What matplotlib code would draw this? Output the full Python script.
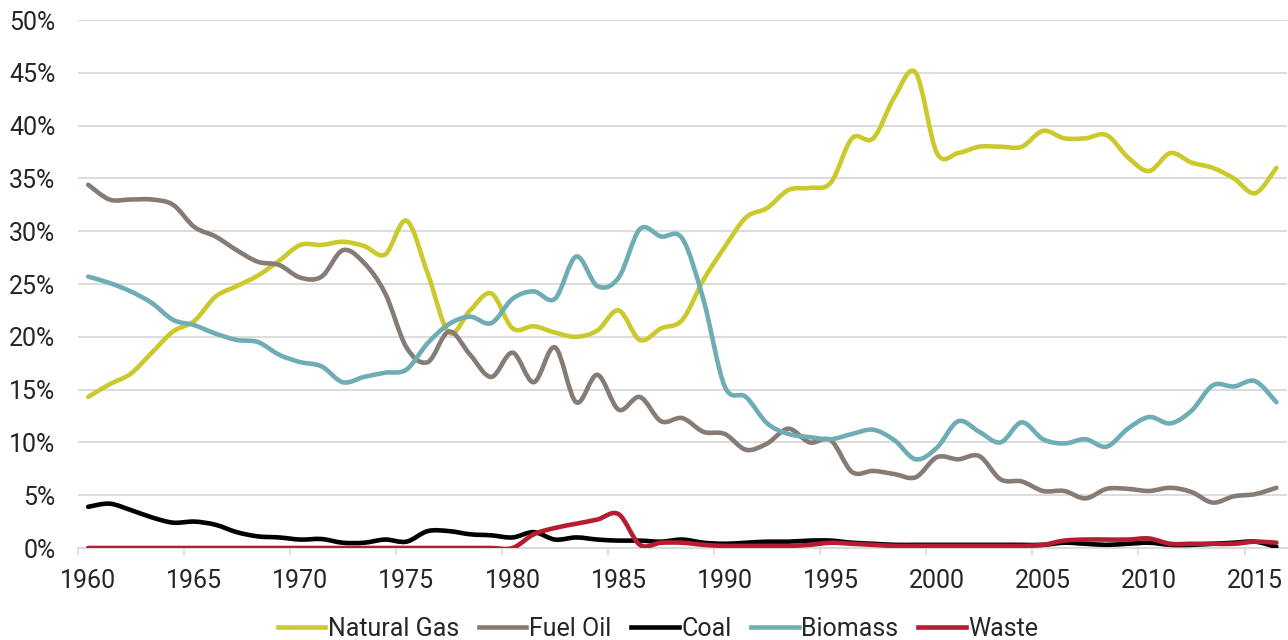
import numpy as np
import matplotlib
matplotlib.use('Agg')
import matplotlib.pyplot as plt
from matplotlib.path import Path
from matplotlib.patches import PathPatch
from matplotlib.lines import Line2D

plt.rcParams['font.family'] = ['Roboto', 'DejaVu Sans']

years = list(range(1960, 2017))

natural_gas = [14.3, 15.5, 16.5, 18.5, 20.5, 21.5, 23.8, 24.8, 25.8, 27.2,
               28.7, 28.7, 29.0, 28.6, 27.8, 31.0, 26.0, 20.4, 22.5, 24.1,
               20.8, 21.0, 20.4, 20.0, 20.6, 22.5, 19.7, 20.8, 21.6, 25.4,
               28.5, 31.3, 32.2, 33.9, 34.1, 34.6, 38.8, 38.8, 42.7, 45.0,
               37.4, 37.4, 38.0, 38.0, 38.0, 39.5, 38.8, 38.8, 39.1, 37.0,
               35.7, 37.4, 36.5, 36.0, 35.0, 33.6, 36.0]

fuel_oil = [34.4, 33.0, 33.0, 33.0, 32.5, 30.4, 29.5, 28.2, 27.1, 26.8,
            25.6, 25.7, 28.2, 27.0, 24.1, 19.0, 17.6, 20.5, 18.3, 16.2,
            18.5, 15.7, 19.0, 13.8, 16.4, 13.1, 14.3, 12.0, 12.3, 11.0,
            10.8, 9.3, 9.9, 11.3, 10.0, 10.2, 7.2, 7.3, 7.0, 6.7,
            8.6, 8.4, 8.7, 6.5, 6.3, 5.4, 5.4, 4.7, 5.6, 5.6,
            5.4, 5.7, 5.3, 4.3, 4.9, 5.1, 5.7]

coal = [3.9, 4.2, 3.6, 2.9, 2.4, 2.5, 2.2, 1.5, 1.1, 1.0,
        0.8, 0.85, 0.5, 0.5, 0.8, 0.6, 1.6, 1.6, 1.3, 1.2,
        1.0, 1.5, 0.8, 1.0, 0.8, 0.7, 0.7, 0.6, 0.8, 0.5,
        0.4, 0.5, 0.6, 0.6, 0.7, 0.7, 0.5, 0.4, 0.3, 0.3,
        0.3, 0.3, 0.3, 0.3, 0.3, 0.3, 0.5, 0.4, 0.3, 0.4,
        0.5, 0.3, 0.3, 0.4, 0.5, 0.6, 0.1]

biomass = [25.7, 25.1, 24.3, 23.2, 21.6, 21.1, 20.3, 19.7, 19.5, 18.3,
           17.6, 17.2, 15.7, 16.2, 16.6, 16.9, 19.4, 21.2, 21.9, 21.3,
           23.6, 24.3, 23.6, 27.6, 24.8, 25.6, 30.2, 29.5, 29.3, 23.5,
           15.3, 14.3, 11.8, 10.8, 10.5, 10.3, 10.8, 11.2, 10.2, 8.4,
           9.5, 12.0, 11.0, 10.0, 11.9, 10.3, 9.9, 10.3, 9.6, 11.3,
           12.4, 11.8, 13.0, 15.4, 15.3, 15.8, 13.8]

waste = [0.0] * 21 + [1.3, 1.9, 2.3, 2.7, 3.2, 0.3, 0.5, 0.5, 0.3,
                      0.2, 0.2, 0.2, 0.2, 0.3, 0.5, 0.4, 0.3, 0.2, 0.2,
                      0.2, 0.2, 0.2, 0.2, 0.2, 0.3, 0.7, 0.8, 0.8, 0.8,
                      0.9, 0.4, 0.4, 0.4, 0.4, 0.6, 0.5]

series = [('Natural Gas', natural_gas, '#CBC92C'),
          ('Fuel Oil', fuel_oil, '#867C75'),
          ('Coal', coal, '#000000'),
          ('Biomass', biomass, '#6EADB4'),
          ('Waste', waste, '#B71C30')]


def smooth_path(x, y):
    # catmull-rom style bezier, like a smoothed excel line
    pts = np.column_stack([x, y]).astype(float)
    n = len(pts)
    verts = [pts[0]]
    codes = [Path.MOVETO]
    for i in range(n - 1):
        p0 = pts[i - 1] if i > 0 else pts[i]
        p1 = pts[i]
        p2 = pts[i + 1]
        p3 = pts[i + 2] if i + 2 < n else pts[i + 1]
        c1 = p1 + (p2 - p0) / 6.0
        c2 = p2 - (p3 - p1) / 6.0
        verts += [c1, c2, p2]
        codes += [Path.CURVE4] * 3
    return Path(verts, codes)


fig = plt.figure(figsize=(12.88, 6.4), dpi=100)
ax = fig.add_axes([77.6 / 1288, 92 / 640, (1287 - 77.6) / 1288, 528 / 640])

handles = []
for name, vals, col in series:
    ax.add_patch(PathPatch(smooth_path(years, vals), fill=False, edgecolor=col,
                           lw=3.3, capstyle='round', joinstyle='round', zorder=3))
    handles.append(Line2D([], [], color=col, lw=3.3, label=name))

ax.set_xlim(1959.5, 2016.5)
ax.set_ylim(0, 50)

ax.set_yticks(range(0, 51, 5))
ax.set_yticklabels(['%d%%' % v for v in range(0, 51, 5)])
ax.set_xticks(range(1960, 2017, 5))
ax.set_xticks(np.arange(1959.5, 2017, 5), minor=True)

ax.grid(axis='y', color='#D9D9D9', lw=1.3, zorder=0)
ax.set_axisbelow(True)
for s in ['top', 'right', 'left']:
    ax.spines[s].set_visible(False)
ax.spines['bottom'].set_color('#D9D9D9')
ax.spines['bottom'].set_linewidth(1.3)

ax.tick_params(axis='y', length=0, pad=16, labelsize=18, labelcolor='#262626')
ax.tick_params(axis='x', which='major', length=0, pad=15, labelsize=18,
               labelcolor='#262626')
ax.tick_params(axis='x', which='minor', length=5, width=1.2, color='#D9D9D9')

fig.legend(handles=handles, loc='center', bbox_to_anchor=(658 / 1288, 11 / 640),
           ncol=5, frameon=False, fontsize=18, handlelength=1.9,
           handletextpad=0.1, columnspacing=0.8, labelcolor='#262626')

fig.savefig('out.png', dpi=100)
